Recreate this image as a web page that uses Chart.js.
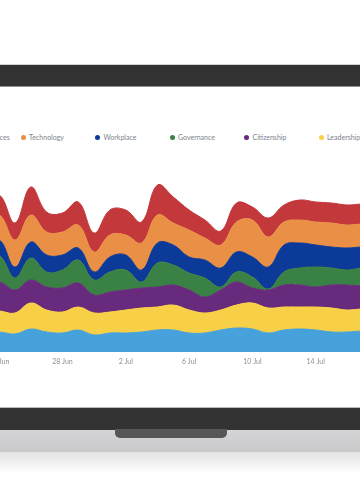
<!DOCTYPE html>
<html>
<head>
<meta charset="utf-8">
<script src="https://cdn.jsdelivr.net/npm/chart.js"></script>
<style>
  body { margin: 0; width: 360px; height: 500px; overflow: hidden; background: #fff; position: relative; font-family: Lato, sans-serif; }
  .bar { position: absolute; left: 0; width: 360px; }
  #wrap { position: absolute; left: -86px; top: 152px; width: 471px; height: 220px; }
  #legend { position: absolute; left: -54px; top: 132px; height: 10px; display: flex; white-space: nowrap; }
  #legend .item { width: 74.5px; flex: none; display: flex; align-items: center; font-size: 7px; color: #7b828b; }
  #legend .dot { width: 5px; height: 5px; border-radius: 50%; margin-right: 3.5px; flex: none; }
  #notch { position: absolute; left: 115px; top: 429px; width: 112px; height: 9px; background: #565656; border-radius: 0 0 5px 5px; }
</style>
</head>
<body>
<div class="bar" style="top:64px;height:1px;background:#d2d2d2"></div>
<div class="bar" style="top:65px;height:21px;background:#333"></div>
<div class="bar" style="top:86px;height:1px;background:#8e8e8e"></div>

<div id="legend"></div>
<div id="wrap"><canvas id="chart"></canvas></div>

<div class="bar" style="top:407px;height:1px;background:#bbb"></div>
<div class="bar" style="top:408px;height:22px;background:#333"></div>
<div class="bar" style="top:430px;height:22px;background:linear-gradient(#d5d5d8,#c9c9cc)"></div>
<div id="notch"></div>
<div class="bar" style="top:452px;height:22px;background:linear-gradient(#e3e3e3,#fff)"></div>

<script>
const days = ['19 Jun', '20 Jun', '21 Jun', '22 Jun', '23 Jun', '24 Jun', '25 Jun', '26 Jun', '27 Jun', '28 Jun',
  '29 Jun', '30 Jun', '1 Jul', '2 Jul', '3 Jul', '4 Jul', '5 Jul', '6 Jul', '7 Jul', '8 Jul',
  '9 Jul', '10 Jul', '11 Jul', '12 Jul', '13 Jul', '14 Jul', '15 Jul', '16 Jul', '17 Jul', '18 Jul'];
const tickLabels = ['24 Jun', '28 Jun', '2 Jul', '6 Jul', '10 Jul', '14 Jul'];

// bottom to top
const environment = [19, 21, 19, 20, 19, 20, 18, 23, 20, 19, 22, 17, 19, 19, 20, 22, 22, 19, 19, 22, 24, 23, 19, 22, 23, 22, 20, 20, 21, 20];
const leadership = [22, 22, 21, 22, 22, 21, 21, 26, 22, 21, 23, 22, 21, 23, 24, 23, 25, 23, 20, 20, 23, 26, 25, 23, 22, 23, 24, 22, 22, 22];
const citizenship = [24, 25, 24, 25, 24, 29, 23, 23, 23, 24, 24, 18, 20, 20, 20, 20, 20, 20, 16, 20, 23, 15, 18, 22, 22, 20, 23, 25, 23, 24];
const governance = [21, 22, 20, 22, 22, 26, 12, 22, 15, 18, 23, 15, 20, 20, 6, 24, 20, 17, 19, 3, 10, 11, 1, 13, 17, 20, 17, 15, 18, 17];
const workplace = [16, 17, 16, 16, 15, 16, 11, 16, 17, 15, 12, 8, 15, 15, 12, 20, 20, 16, 18, 19, 20, 20, 22, 27, 25, 22, 21, 22, 21, 21];
const technology = [24, 25, 24, 25, 25, 25, 27, 27, 23, 23, 23, 20, 22, 20, 27, 28, 22, 27, 22, 23, 30, 37, 30, 23, 23, 23, 24, 23, 23, 23];
const humanResources = [20, 22, 20, 22, 20, 20, 17, 28, 20, 19, 23, 19, 25, 25, 21, 30, 26, 20, 18, 14, 19, 13, 19, 17, 20, 20, 20, 20, 20, 20];

const series = [
  ['Environment', environment, '#47a1da'],
  ['Leadership', leadership, '#f8d047'],
  ['Citizenship', citizenship, '#672a7c'],
  ['Governance', governance, '#3a8145'],
  ['Workplace', workplace, '#0c3a98'],
  ['Technology', technology, '#ea8f46'],
  ['Human Resources', humanResources, '#c3383b']
];

const chart = new Chart(document.getElementById('chart'), {
  type: 'line',
  data: {
    labels: days,
    datasets: series.map((s, i) => ({
      label: s[0],
      data: s[1],
      backgroundColor: s[2],
      borderColor: s[2],
      borderWidth: 1,
      fill: i === 0 ? 'origin' : '-1'
    }))
  },
  options: {
    responsive: true,
    maintainAspectRatio: false,
    animation: false,
    layout: { padding: 0 },
    elements: { point: { radius: 0 }, line: { tension: 0.4 } },
    plugins: { legend: { display: false }, tooltip: { enabled: false } },
    scales: {
      x: {
        grid: { display: false, drawTicks: false },
        border: { display: false },
        afterFit: s => { s.height = 20; },
        ticks: {
          autoSkip: false,
          maxRotation: 0,
          padding: 6,
          color: '#8a9098',
          font: { family: 'Lato', size: 7 },
          callback: (v, i) => tickLabels.includes(days[i]) ? days[i] : ''
        }
      },
      y: { display: false, stacked: true, min: 0, max: 200 }
    }
  }
});

// html legend, top of the stack first
const legend = document.getElementById('legend');
chart.data.datasets.slice().reverse().forEach(ds => {
  const item = document.createElement('div');
  item.className = 'item';
  const dot = document.createElement('span');
  dot.className = 'dot';
  dot.style.background = ds.backgroundColor;
  item.appendChild(dot);
  item.appendChild(document.createTextNode(ds.label));
  legend.appendChild(item);
});
</script>
</body>
</html>
